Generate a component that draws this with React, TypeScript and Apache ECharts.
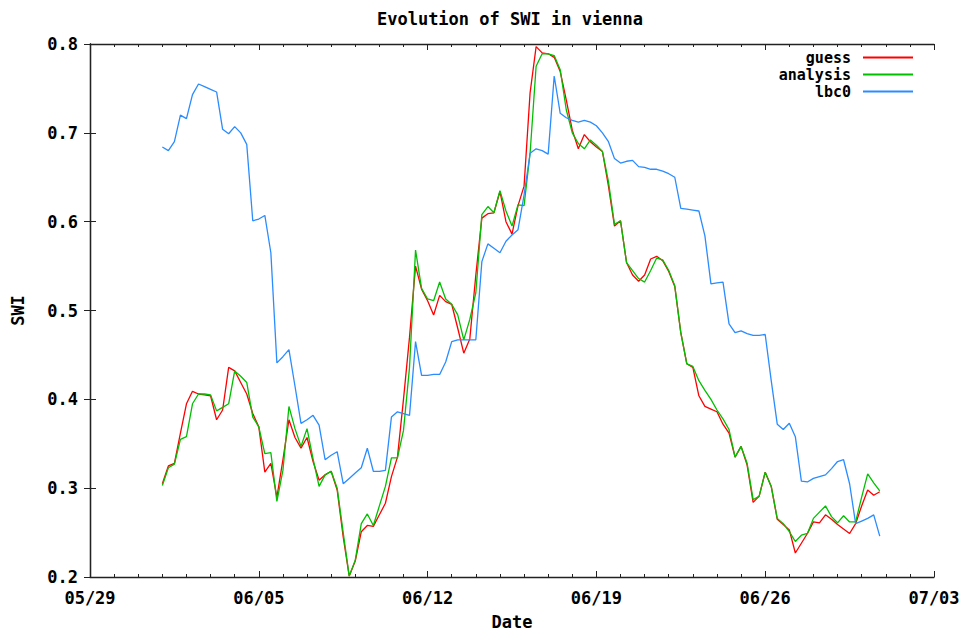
import React, { useEffect, useRef } from "react";
import * as echarts from "echarts";

// Six-hourly SWI values, starting 06/01 00:00
const guess = [
  0.305, 0.325, 0.328, 0.362, 0.395, 0.409, 0.406, 0.405, 0.404, 0.377, 0.388, 0.436,
  0.432, 0.419, 0.406, 0.384, 0.369, 0.318, 0.328, 0.290, 0.332, 0.377, 0.357, 0.345,
  0.357, 0.330, 0.309, 0.315, 0.319, 0.298, 0.245, 0.201, 0.218, 0.251, 0.258, 0.257,
  0.270, 0.283, 0.313, 0.335, 0.400, 0.470, 0.550, 0.524, 0.511, 0.495, 0.517, 0.510,
  0.507, 0.480, 0.452, 0.468, 0.540, 0.604, 0.609, 0.610, 0.634, 0.600, 0.586, 0.618,
  0.640, 0.745, 0.797, 0.790, 0.789, 0.785, 0.769, 0.737, 0.703, 0.682, 0.698, 0.690,
  0.684, 0.679, 0.640, 0.595, 0.601, 0.554, 0.540, 0.533, 0.540, 0.558, 0.561, 0.556,
  0.544, 0.527, 0.475, 0.440, 0.436, 0.404, 0.392, 0.389, 0.386, 0.372, 0.362, 0.335,
  0.347, 0.326, 0.284, 0.291, 0.318, 0.302, 0.265, 0.259, 0.253, 0.227, 0.238, 0.249,
  0.262, 0.261, 0.270, 0.265, 0.259, 0.254, 0.249, 0.260, 0.280, 0.298, 0.292, 0.296,
];

const analysis = [
  0.303, 0.323, 0.327, 0.355, 0.358, 0.395, 0.406, 0.406, 0.405, 0.387, 0.391, 0.395,
  0.432, 0.426, 0.419, 0.380, 0.369, 0.339, 0.340, 0.285, 0.320, 0.392, 0.367, 0.347,
  0.367, 0.333, 0.302, 0.315, 0.319, 0.300, 0.250, 0.201, 0.219, 0.260, 0.271, 0.258,
  0.280, 0.302, 0.334, 0.334, 0.365, 0.436, 0.568, 0.525, 0.513, 0.511, 0.532, 0.513,
  0.507, 0.495, 0.467, 0.490, 0.520, 0.608, 0.617, 0.610, 0.635, 0.612, 0.595, 0.619,
  0.618, 0.677, 0.775, 0.789, 0.789, 0.787, 0.771, 0.726, 0.700, 0.688, 0.682, 0.692,
  0.686, 0.679, 0.645, 0.597, 0.601, 0.554, 0.545, 0.536, 0.532, 0.545, 0.559, 0.557,
  0.545, 0.528, 0.475, 0.440, 0.437, 0.421, 0.410, 0.400, 0.388, 0.378, 0.366, 0.335,
  0.347, 0.328, 0.287, 0.291, 0.318, 0.302, 0.266, 0.260, 0.251, 0.240, 0.247, 0.249,
  0.266, 0.273, 0.280, 0.268, 0.261, 0.269, 0.262, 0.262, 0.290, 0.316, 0.306, 0.297,
];

const lbc0 = [
  0.684, 0.680, 0.690, 0.720, 0.716, 0.743, 0.755, 0.752, 0.749, 0.746, 0.704, 0.699,
  0.707, 0.700, 0.687, 0.601, 0.603, 0.607, 0.565, 0.441, 0.448, 0.456, 0.415, 0.373,
  0.377, 0.382, 0.371, 0.332, 0.337, 0.341, 0.305, 0.311, 0.317, 0.323, 0.345, 0.319,
  0.319, 0.320, 0.380, 0.386, 0.384, 0.382, 0.465, 0.427, 0.427, 0.428, 0.428, 0.442,
  0.465, 0.467, 0.467, 0.467, 0.467, 0.555, 0.575, 0.570, 0.565, 0.578, 0.585, 0.591,
  0.630, 0.677, 0.682, 0.680, 0.676, 0.764, 0.722, 0.717, 0.714, 0.712, 0.714, 0.712,
  0.708, 0.700, 0.690, 0.671, 0.666, 0.668, 0.669, 0.662, 0.661, 0.659, 0.659, 0.657,
  0.654, 0.650, 0.615, 0.614, 0.613, 0.612, 0.584, 0.530, 0.531, 0.532, 0.485, 0.475,
  0.477, 0.474, 0.472, 0.472, 0.473, 0.421, 0.372, 0.366, 0.373, 0.358, 0.308, 0.307,
  0.311, 0.313, 0.315, 0.322, 0.330, 0.332, 0.305, 0.260, 0.263, 0.266, 0.270, 0.246,
];

const seriesNames = ["guess", "analysis", "lbc0"];
const seriesColors = ["#ff0000", "#00c000", "#2a8cff"];
const xTickLabels = ["05/29", "06/05", "06/12", "06/19", "06/26", "07/03"];
const startHour = 72; // 06/01 00:00, counted in hours from 05/29 00:00
const stepHours = 6;
const weekHours = 168;

const FONT = "'DejaVu Sans Mono', 'Liberation Mono', monospace";

export default function App() {
  const ref = useRef<HTMLDivElement>(null);

  useEffect(() => {
    if (!ref.current) return;
    const chart = echarts.init(ref.current, null, { renderer: "svg" });
    const toPairs = (arr: number[]) => arr.map((v, i) => [startHour + i * stepHours, v]);
    const allSeries = [guess, analysis, lbc0];

    const textStyle = { fontFamily: FONT, fontWeight: "bold" as const, fontSize: 17, color: "#000" };
    const axisLineStyle = { lineStyle: { color: "#222", width: 1.3 } };
    const tickStyle = { lineStyle: { color: "#222", width: 1 } };

    const legendTops = [50, 67, 84];

    chart.setOption({
      animation: false,
      backgroundColor: "#fff",
      title: {
        text: "Evolution of SWI in vienna",
        left: 510,
        top: 10,
        padding: 0,
        textAlign: "center",
        textStyle: { ...textStyle },
      },
      legend: seriesNames.map((name, i) => ({
        data: [name],
        right: 53,
        top: legendTops[i],
        padding: 0,
        orient: "vertical",
        align: "right",
        icon: "rect",
        itemWidth: 50,
        itemHeight: 2,
        textStyle: { ...textStyle, fontSize: 15, lineHeight: 15, padding: [0, 7, 0, 0] },
        selectedMode: false,
      })),
      grid: { left: 90, right: 32, top: 44, bottom: 56, show: false },
      xAxis: [
        {
          type: "value",
          min: 0,
          max: 5 * weekHours,
          interval: weekHours,
          name: "Date",
          nameLocation: "middle",
          nameGap: 36,
          nameTextStyle: { ...textStyle },
          axisLine: { show: true, ...axisLineStyle },
          axisTick: { show: true, inside: true, length: 6, ...tickStyle },
          minorTick: { show: true, splitNumber: 7, length: 3, ...tickStyle },
          splitLine: { show: false },
          axisLabel: {
            ...textStyle,
            margin: 12,
            formatter: (v: number) => xTickLabels[Math.round(v / weekHours)] ?? "",
          },
        },
        {
          type: "value",
          position: "top",
          min: 0,
          max: 5 * weekHours,
          interval: weekHours,
          axisLine: { show: true, ...axisLineStyle },
          axisTick: { show: true, inside: true, length: 6, ...tickStyle },
          minorTick: { show: true, splitNumber: 7, length: 3, ...tickStyle },
          splitLine: { show: false },
          axisLabel: { show: false },
        },
      ],
      yAxis: [
        {
          type: "value",
          min: 0.2,
          max: 0.8,
          interval: 0.1,
          name: "SWI",
          nameLocation: "middle",
          nameGap: 64,
          nameTextStyle: { ...textStyle },
          axisLine: { show: true, ...axisLineStyle },
          axisTick: { show: true, inside: true, length: 6, ...tickStyle },
          splitLine: { show: false },
          axisLabel: { ...textStyle, margin: 12, formatter: (v: number) => v.toFixed(1) },
        },
        {
          type: "value",
          position: "right",
          min: 0.2,
          max: 0.8,
          interval: 0.1,
          axisLine: { show: true, ...axisLineStyle },
          axisTick: { show: true, inside: true, length: 6, ...tickStyle },
          splitLine: { show: false },
          axisLabel: { show: false },
        },
      ],
      series: seriesNames.map((name, i) => ({
        name,
        type: "line",
        data: toPairs(allSeries[i]),
        showSymbol: false,
        symbol: "none",
        color: seriesColors[i],
        lineStyle: { color: seriesColors[i], width: 1.3 },
        z: 2 + i,
      })),
    });

    return () => chart.dispose();
  }, []);

  return (
    <div
      ref={ref}
      style={{ position: "fixed", left: 0, top: 0, width: 966, height: 635, background: "#fff" }}
    />
  );
}
